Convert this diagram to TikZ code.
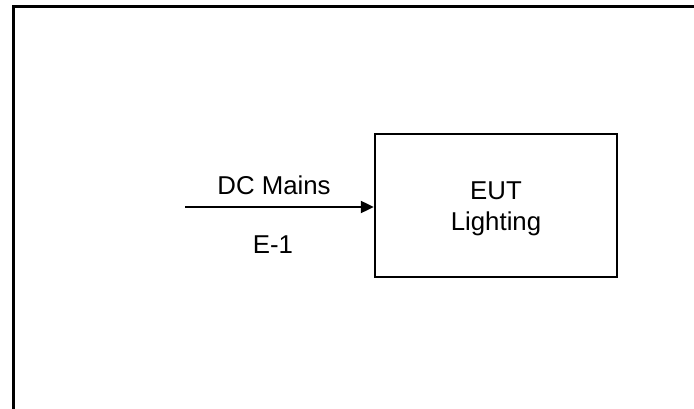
\documentclass[tikz,border=0pt]{standalone}
\usepackage{fontspec}
\setmainfont{Liberation Sans}
\usetikzlibrary{arrows.meta}
\tikzset{
	unitbox/.style={draw=black, line width=2.4pt, minimum width=242pt, minimum height=143pt, align=center, inner sep=0pt},
	feed/.style={line width=2.2pt, -{Triangle[length=13pt,width=12pt]}},
	tag/.style={anchor=base, inner sep=0pt}
}

\begin{document}
\begin{tikzpicture}[x=1pt, y=-1pt, font=\fontsize{25.8}{30}\selectfont, color=black]
			%%%%% START %%%%%
			
			\useasboundingbox (0, 0) rectangle (694, 409);
			
			\draw[line width=3pt] (13.5, 409) -- (13.5, 7) -- (694, 7);
			
			\node[unitbox] (eut) at (496, 205.5) {};
			\node[tag] (eutname) at (496, 200) {EUT};
			\node[tag] (eutkind) at (496, 230) {Lighting};
			
			\coordinate (mains) at (185, 207);
			\draw[feed] (mains) -- (mains -| eut.west);
			
			\node[tag] (dclabel) at (274, 194) {DC Mains};
			\node[tag] (portlabel) at (273, 253) {E-1};
			
			%%%%% END %%%%%
		\end{tikzpicture}
\end{document}
